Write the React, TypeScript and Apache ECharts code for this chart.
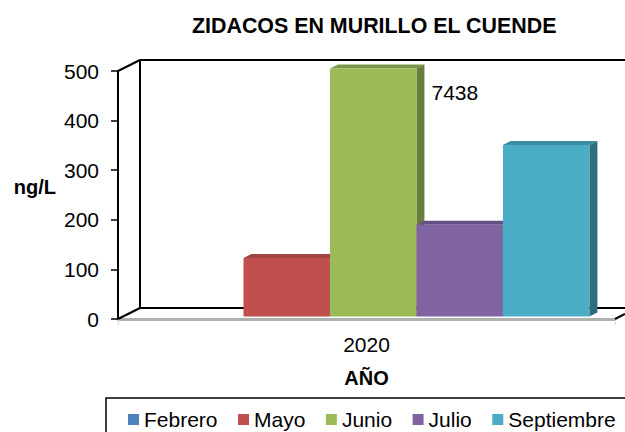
import React, { useEffect, useRef } from "react";
import * as echarts from "echarts";

const years = ["2020"];
const months = ["Febrero", "Mayo", "Junio", "Julio", "Septiembre"];
const values = [0, 118, 7438, 185, 346];
const faceColors = ["#4F81BD", "#C0504D", "#9BBB59", "#8064A2", "#4BACC6"];
const sideColors = ["#3A5F8B", "#8E3B39", "#667F3A", "#5E4A78", "#2F6D7E"];
const topColors = ["#426C9E", "#A04341", "#7D9748", "#664F82", "#3B8CA2"];
const yMax = 500;
const font = "Liberation Sans, Arial, sans-serif";

export default function App() {
  const ref = useRef<HTMLDivElement>(null);
  useEffect(() => {
    document.body.style.margin = "0";
    const chart = echarts.init(ref.current!, null, { renderer: "svg" });
    const series = months.map((m, i) => ({
      name: m,
      type: "custom",
      z: 5,
      itemStyle: { color: faceColors[i] },
      data: [[0, values[i]]],
      clip: false,
      renderItem: (_p: any, api: any) => {
        const raw = api.value(1) as number;
        if (!raw) return null;
        const v = Math.min(raw, yMax);
        const band = api.size([1, 0])[0];
        const c = api.coord([0, 0]);
        const w = band * 0.174;
        const x0 = c[0] - band / 2 + band * 0.0785 + i * w;
        const y0 = c[1] - 2.5;
        const yt = api.coord([0, v])[1] - 2.5;
        const d = 8, e = 4;
        const children: any[] = [
          { type: "polygon", shape: { points: [[x0, yt], [x0 + d, yt - e], [x0 + w + d, yt - e], [x0 + w, yt]] }, style: { fill: topColors[i] } },
          { type: "polygon", shape: { points: [[x0 + w, yt], [x0 + w + d, yt - e], [x0 + w + d, y0 - e], [x0 + w, y0]] }, style: { fill: sideColors[i] } },
          { type: "rect", shape: { x: x0, y: yt, width: w, height: y0 - yt }, style: { fill: faceColors[i] } },
        ];
        if (raw > yMax) {
          children.push({
            type: "text",
            x: x0 + w + 15,
            y: yt + 24,
            style: { text: String(raw), fill: "#000", font: `21px ${font}`, textAlign: "left", textVerticalAlign: "middle" },
          });
        }
        return { type: "group", children };
      },
    }));
    const ln = (x1: number, y1: number, x2: number, y2: number) => ({
      type: "line", z: 1, shape: { x1, y1, x2, y2 }, style: { stroke: "#000", lineWidth: 2 },
    });
    chart.setOption({
      animation: false,
      backgroundColor: "#fff",
      title: {
        text: "ZIDACOS EN MURILLO EL CUENDE",
        left: 187, top: 10,
        textStyle: { fontFamily: font, fontWeight: "bold", fontSize: 21.4, color: "#000" },
      },
      grid: { left: 118, right: 10, top: 71, bottom: 113 },
      xAxis: {
        type: "category",
        data: years,
        name: "AÑO",
        nameLocation: "middle",
        nameGap: 49,
        nameTextStyle: { fontFamily: font, fontWeight: "bold", fontSize: 20, color: "#000" },
        axisLine: { lineStyle: { color: "#B0B0B0", width: 3 } },
        axisTick: { show: true, length: 6, lineStyle: { color: "#D9D9D9" } },
        axisLabel: { fontFamily: font, fontSize: 21, color: "#000", margin: 15 },
      },
      yAxis: {
        type: "value",
        min: 0, max: yMax, interval: 100,
        name: "ng/L",
        nameLocation: "middle",
        nameRotate: 0,
        nameGap: 62,
        nameTextStyle: { fontFamily: font, fontWeight: "bold", fontSize: 20, color: "#000", verticalAlign: "bottom", lineHeight: 16 },
        axisLine: { show: true, lineStyle: { color: "#000", width: 2 } },
        axisTick: { show: true, length: 7, lineStyle: { color: "#000", width: 1.5 } },
        axisLabel: { fontFamily: font, fontSize: 21, color: "#000", margin: 19 },
        splitLine: { show: false },
      },
      legend: {
        data: months,
        left: 123, top: 404, width: 501,
        padding: [5, 0, 5, 5],
        itemWidth: 11, itemHeight: 11, itemGap: 20.5,
        icon: "rect",
        textStyle: { fontFamily: font, fontSize: 21, color: "#000", padding: [0, 0, 0, 0] },
      },
      graphic: [
        ln(140, 60, 625, 60),
        ln(140, 60, 140, 308),
        ln(140, 308, 625, 308),
        ln(118, 71, 140, 60),
        ln(118, 319, 140, 308),
        ln(615, 319, 625, 314),
        { type: "rect", z: 1, shape: { x: 106, y: 398, width: 600, height: 60 }, style: { fill: "none", stroke: "#000", lineWidth: 1.5 } },
      ],
      series,
    });
    return () => chart.dispose();
  }, []);
  return <div ref={ref} style={{ position: "fixed", left: 0, top: 0, width: 625, height: 432 }} />;
}
